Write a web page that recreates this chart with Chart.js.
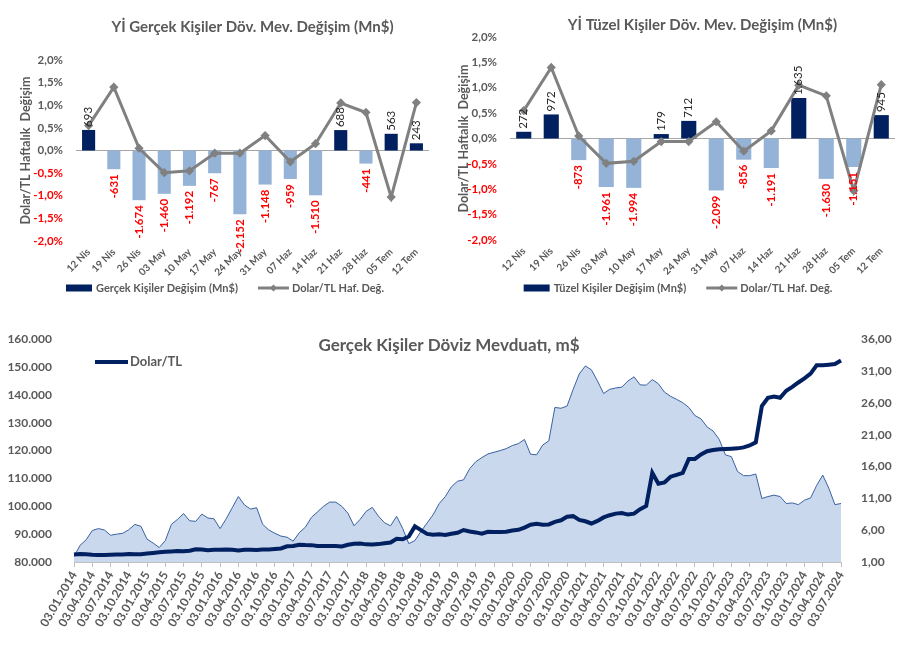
<!DOCTYPE html>
<html>
<head>
<meta charset="utf-8">
<script src="https://cdn.jsdelivr.net/npm/chart.js@4.4.1/dist/chart.umd.min.js"></script>
<style>
  html, body { margin: 0; padding: 0; background: #fff; }
  #wrap { position: relative; width: 906px; height: 655px; overflow: hidden; }
  canvas { position: absolute; }
</style>
</head>
<body>
<div id="wrap">
  <canvas id="gercekChart" width="450" height="305" style="left:0;top:0"></canvas>
  <canvas id="tuzelChart" width="456" height="305" style="left:450px;top:0"></canvas>
  <canvas id="mevduatChart" width="906" height="337" style="left:0;top:318px"></canvas>
</div>
<script>
// Haftalık değişimler (Mn$) ve Dolar/TL haftalık değişimi (%)
const weeks = ['12 Nis', '19 Nis', '26 Nis', '03 May', '10 May', '17 May', '24 May', '31 May', '07 Haz', '14 Haz', '21 Haz', '28 Haz', '05 Tem', '12 Tem'];
const gercekChange = [693, -631, -1674, -1460, -1192, -767, -2152, -1148, -959, -1510, 688, -441, 563, 243];
const tuzelChange = [272, 972, -873, -1961, -1994, 179, 712, -2099, -856, -1191, 1635, -1630, -1151, 945];
const usdWeekly = [0.55, 1.40, 0.05, -0.49, -0.45, -0.06, -0.06, 0.33, -0.25, 0.15, 1.05, 0.84, -1.03, 1.06];
const pctTicks = [-2, -1.5, -1, -0.5, 0, 0.5, 1, 1.5, 2];

// Aylık seri: 03.01.2014 - 03.07.2024
const firstYear = 2014;
const monthCount = 127;
const depositTicks = [80000, 90000, 100000, 110000, 120000, 130000, 140000, 150000, 160000];
const usdTicks = [1, 6, 11, 16, 21, 26, 31, 36];
const deposits = [
  82000, 86000, 88000, 91300, 92000, 91500, 89600, 90000, 90300, 91600, 93500, 92800,
  88200, 86800, 85200, 87700, 93500, 95300, 97400, 94800, 94600, 97200, 95800, 95500,
  92000, 95500, 99500, 103500, 100500, 99000, 99500, 93500, 91500, 90300, 89300, 88900,
  87500, 90500, 92500, 96000, 98000, 100000, 101500, 101500, 100000, 97500, 93000, 95300,
  98200, 99600, 96500, 94100, 93000, 96400, 92000, 86600, 87700, 91000, 94000, 97000,
  101000, 103500, 107000, 109000, 109500, 113500, 116000, 117500, 118800, 119400, 120000, 120700,
  121800, 122500, 124000, 118700, 118500, 122000, 123500, 135500, 135200, 136000, 142000, 147500,
  150400, 149000, 145000, 140500, 142000, 142500, 142800, 145000, 146500, 143600, 143500, 145500,
  144000, 141000, 139500, 138400, 137200, 135500, 132600, 131400, 128500, 127000, 124000, 118500,
  117800, 112500, 111000, 111000, 111600, 102800, 103500, 104000, 103500, 101000, 101200, 100600,
  102200, 103000, 107500, 111200, 106500, 100600, 101000
];
const usdTl = [
  2.17, 2.25, 2.22, 2.14, 2.10, 2.10, 2.14, 2.16, 2.17, 2.27, 2.23, 2.22,
  2.33, 2.42, 2.52, 2.60, 2.66, 2.71, 2.68, 2.78, 3.00, 2.98, 2.86, 2.91,
  2.93, 2.95, 2.92, 2.82, 2.93, 2.91, 2.90, 2.98, 2.97, 3.06, 3.13, 3.46,
  3.53, 3.71, 3.66, 3.65, 3.53, 3.52, 3.53, 3.51, 3.44, 3.70, 3.88, 3.90,
  3.77, 3.76, 3.81, 3.96, 4.07, 4.66, 4.57, 5.00, 6.60, 6.00, 5.42, 5.30,
  5.35, 5.26, 5.44, 5.60, 6.03, 5.80, 5.65, 5.45, 5.75, 5.70, 5.73, 5.75,
  5.95, 6.05, 6.40, 6.85, 7.00, 6.85, 6.90, 7.30, 7.55, 8.10, 8.20, 7.60,
  7.40, 7.05, 7.45, 8.00, 8.35, 8.60, 8.70, 8.45, 8.60, 9.30, 9.80, 15.00,
  13.30, 13.50, 14.40, 14.70, 15.00, 17.20, 17.20, 17.90, 18.40, 18.60, 18.70, 18.75,
  18.80, 18.85, 19.00, 19.30, 19.80, 25.50, 26.80, 27.00, 26.80, 27.90, 28.50, 29.20,
  29.85, 30.60, 31.90, 31.90, 32.00, 32.10, 32.65
];

const FONT = 'Lato, "Open Sans", sans-serif';
const gray = '#595959';
const navy = '#002060';
const lightBlue = '#95b3d7';
const lineGray = '#808080';

function trNumber(v, dec) {
  const parts = v.toFixed(dec).split('.');
  const intPart = parts[0].replace(/\B(?=(\d{3})+(?!\d))/g, '.');
  return parts[1] ? intPart + ',' + parts[1] : intPart;
}

// Bar value labels, rotated like the original
const barLabels = {
  id: 'barLabels',
  afterDatasetsDraw(chart) {
    const ctx = chart.ctx;
    const vals = chart.data.datasets[0].data;
    chart.getDatasetMeta(0).data.forEach((bar, i) => {
      const v = vals[i];
      ctx.save();
      ctx.translate(bar.x, v >= 0 ? bar.y - 3 : bar.y + 5);
      ctx.rotate(-Math.PI / 2);
      ctx.font = (v >= 0 ? '' : 'bold ') + '11.5px ' + FONT;
      ctx.textBaseline = 'middle';
      ctx.textAlign = v >= 0 ? 'left' : 'right';
      ctx.fillStyle = v >= 0 ? '#262626' : '#ff0000';
      ctx.fillText(trNumber(v, 0), 0, 0);
      ctx.restore();
    });
  }
};

// Legend under the weekly charts: bar swatch + line with diamond marker
const bottomLegend = {
  id: 'bottomLegend',
  afterDraw(chart) {
    const ctx = chart.ctx;
    const ds = chart.data.datasets;
    const y = chart.options.plugins.bottomLegend.y;
    ctx.save();
    ctx.font = 'bold 11px ' + FONT;
    ctx.textBaseline = 'middle';
    const w1 = ctx.measureText(ds[0].label).width;
    const w2 = ctx.measureText(ds[1].label).width;
    const total = 26 + 4 + w1 + 20 + 31 + 3 + w2;
    let x = chart.width / 2 - total / 2;
    ctx.fillStyle = navy;
    ctx.fillRect(x, y - 3.5, 26, 7);
    x += 30;
    ctx.fillStyle = gray;
    ctx.fillText(ds[0].label, x, y);
    x += w1 + 20;
    ctx.strokeStyle = lineGray;
    ctx.lineWidth = 3;
    ctx.beginPath();
    ctx.moveTo(x, y);
    ctx.lineTo(x + 31, y);
    ctx.stroke();
    ctx.fillStyle = lineGray;
    ctx.beginPath();
    ctx.moveTo(x + 15.5, y - 3.5);
    ctx.lineTo(x + 19, y);
    ctx.lineTo(x + 15.5, y + 3.5);
    ctx.lineTo(x + 12, y);
    ctx.fill();
    x += 34;
    ctx.fillStyle = gray;
    ctx.fillText(ds[1].label, x, y);
    ctx.restore();
  }
};

function weeklyChart(id, title, barLabel, barValues, barRange, opts) {
  return new Chart(document.getElementById(id), {
    type: 'bar',
    data: {
      labels: weeks,
      datasets: [{
        type: 'bar',
        label: barLabel,
        data: barValues,
        yAxisID: 'yb',
        order: 1,
        backgroundColor: barValues.map(v => v >= 0 ? navy : lightBlue),
        categoryPercentage: 1,
        barPercentage: opts.barPct
      }, {
        type: 'line',
        label: 'Dolar/TL Haf. Değ.',
        data: usdWeekly,
        yAxisID: 'y',
        order: 0,
        borderColor: lineGray,
        backgroundColor: lineGray,
        borderWidth: 3,
        pointStyle: 'rectRot',
        pointRadius: 2.5,
        tension: 0
      }]
    },
    options: {
      responsive: false,
      animation: false,
      layout: { padding: { left: 0, right: opts.rightPad, top: 0, bottom: 25 } },
      plugins: {
        tooltip: { enabled: false },
        legend: { display: false },
        bottomLegend: { y: 288 },
        title: {
          display: true,
          text: title,
          fullSize: false,
          color: gray,
          font: { family: FONT, size: 15, weight: 'bold' },
          padding: opts.titlePad
        }
      },
      scales: {
        x: {
          afterFit(scale) { scale.height = opts.xHeight; },
          grid: { display: false, drawTicks: false },
          border: { display: false },
          ticks: {
            color: gray,
            maxRotation: 45,
            minRotation: 45,
            padding: 5,
            font: { family: FONT, size: 10, weight: 'bold' }
          }
        },
        y: {
          position: 'left',
          min: -2,
          max: 2,
          afterBuildTicks(scale) { scale.ticks = pctTicks.map(v => ({ value: v })); },
          afterFit(scale) { scale.width = opts.yWidth; },
          grid: {
            drawTicks: false,
            color: c => c.tick && c.tick.value === 0 ? '#a6a6a6' : 'transparent'
          },
          border: { display: false },
          title: {
            display: true,
            text: 'Dolar/TL Haftalık  Değişim',
            color: gray,
            font: { family: FONT, size: 12.5, weight: 'bold' },
            padding: { top: opts.yTitlePad, bottom: 0 }
          },
          ticks: {
            padding: 13,
            color: c => c.tick.value < 0 ? '#ff0000' : gray,
            font: { family: FONT, size: 11.5, weight: 'bold' },
            callback: v => v.toFixed(1).replace('.', ',') + '%'
          }
        },
        yb: {
          display: false,
          min: -barRange,
          max: barRange
        }
      }
    },
    plugins: [barLabels, bottomLegend]
  });
}

weeklyChart('gercekChart', 'Yİ Gerçek Kişiler Döv. Mev. Değişim (Mn$)', 'Gerçek Kişiler Değişim (Mn$)',
  gercekChange, 3050,
  { yWidth: 76, rightPad: 21, barPct: 0.52, titlePad: { top: 18, bottom: 24 }, xHeight: 39, yTitlePad: 18 });
weeklyChart('tuzelChart', 'Yİ Tüzel Kişiler Döv. Mev. Değişim (Mn$)', 'Tüzel Kişiler Değişim (Mn$)',
  tuzelChange, 4100,
  { yWidth: 60, rightPad: 11, barPct: 0.55, titlePad: { top: 16, bottom: 3 }, xHeight: 40, yTitlePad: 6 });

// Döviz mevduatı grafiği
const monthLabels = [];
for (let i = 0; i < monthCount; i++) {
  const m = i % 12 + 1;
  monthLabels.push('03.' + String(m).padStart(2, '0') + '.' + (firstYear + Math.floor(i / 12)));
}

const overlayText = {
  id: 'overlayText',
  afterDraw(chart) {
    const ctx = chart.ctx;
    ctx.save();
    ctx.fillStyle = gray;
    ctx.font = 'bold 17px ' + FONT;
    ctx.textAlign = 'center';
    ctx.textBaseline = 'middle';
    ctx.fillText('Gerçek Kişiler Döviz Mevduatı, m$', 449, 28);
    ctx.strokeStyle = navy;
    ctx.lineWidth = 4;
    ctx.beginPath();
    ctx.moveTo(95, 44);
    ctx.lineTo(128, 44);
    ctx.stroke();
    ctx.font = 'bold 13px ' + FONT;
    ctx.textAlign = 'left';
    ctx.fillText('Dolar/TL', 130, 44);
    ctx.restore();
  }
};

new Chart(document.getElementById('mevduatChart'), {
  type: 'line',
  data: {
    labels: monthLabels,
    datasets: [{
      label: 'Dolar/TL',
      data: usdTl,
      yAxisID: 'yr',
      borderColor: navy,
      borderWidth: 4,
      pointRadius: 0,
      tension: 0
    }, {
      label: 'Döviz Mevduatı',
      data: deposits,
      yAxisID: 'yl',
      borderColor: '#3a62a0',
      borderWidth: 1,
      backgroundColor: '#c9d8ec',
      fill: 'start',
      pointRadius: 0,
      tension: 0
    }]
  },
  options: {
    responsive: false,
    animation: false,
    layout: { padding: { top: 15, bottom: 0, left: 0, right: 0 } },
    plugins: {
      legend: { display: false },
      tooltip: { enabled: false }
    },
    scales: {
      x: {
        offset: false,
        afterFit(scale) { scale.height = 93; },
        grid: { display: true, drawOnChartArea: false, drawTicks: true, tickLength: 5, color: '#bfbfbf' },
        border: { color: '#bfbfbf' },
        ticks: {
          autoSkip: false,
          maxRotation: 60,
          minRotation: 60,
          padding: 2,
          color: gray,
          font: { family: FONT, size: 12, weight: 'bold' },
          callback: (v, i) => ['01', '04', '07', '10'].includes(monthLabels[i].slice(3, 5)) ? monthLabels[i] : null
        }
      },
      yl: {
        position: 'left',
        min: 80000,
        max: 160000,
        afterBuildTicks(scale) { scale.ticks = depositTicks.map(v => ({ value: v })); },
        afterFit(scale) { scale.width = 74; },
        grid: { display: false },
        border: { display: false },
        ticks: {
          padding: 14,
          color: gray,
          font: { family: FONT, size: 12, weight: 'bold' },
          callback: v => trNumber(v, 0)
        }
      },
      yr: {
        position: 'right',
        min: 1,
        max: 36,
        afterBuildTicks(scale) { scale.ticks = usdTicks.map(v => ({ value: v })); },
        afterFit(scale) { scale.width = 65; },
        grid: { display: false },
        border: { display: false },
        ticks: {
          padding: 12,
          color: gray,
          font: { family: FONT, size: 12, weight: 'bold' },
          callback: v => trNumber(v, 2)
        }
      }
    }
  },
  plugins: [overlayText]
});
</script>
</body>
</html>
